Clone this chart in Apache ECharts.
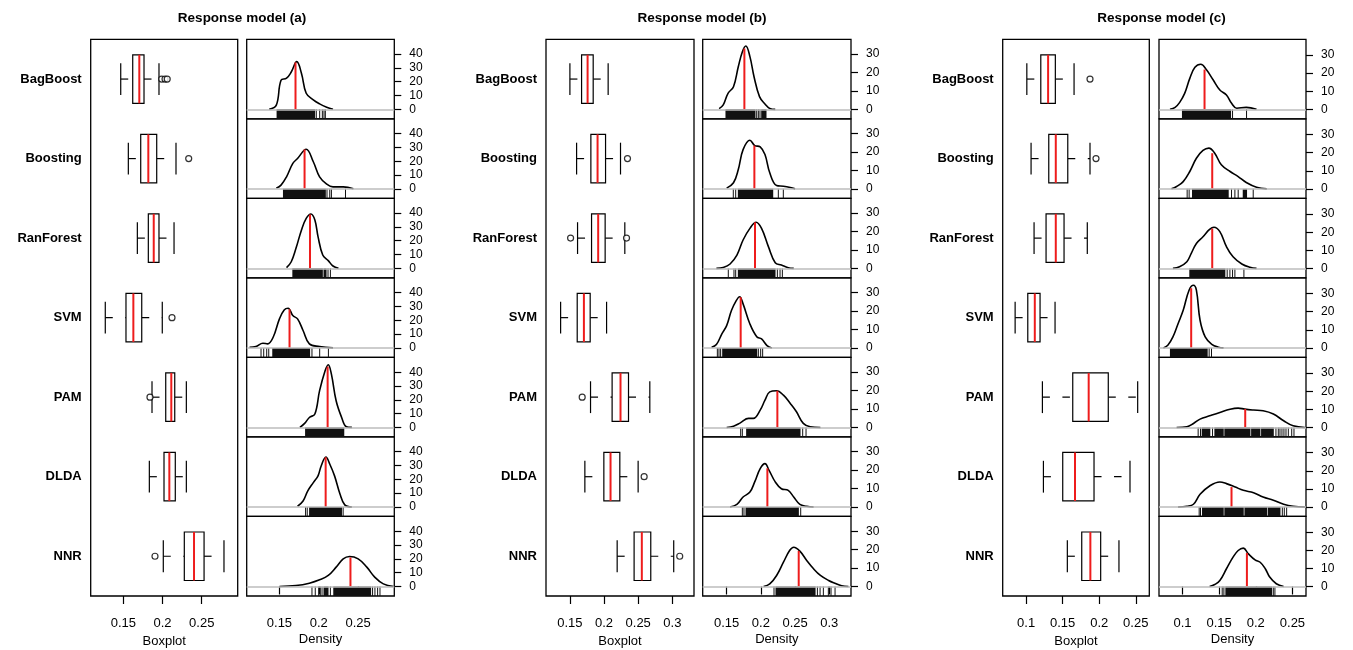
<!DOCTYPE html>
<html><head><meta charset="utf-8">
<script src="https://cdn.jsdelivr.net/npm/echarts@6/dist/echarts.min.js"></script>
<style>html,body{margin:0;padding:0;background:#fff}#c{width:1353px;height:650px}</style>
</head><body><div id="c"></div>
<script>
// ---------------- DATA ----------------
const methods = ['BagBoost','Boosting','RanForest','SVM','PAM','DLDA','NNR'];
const panelTitles = ['Response model (a)','Response model (b)','Response model (c)'];
const xTicksA = [0.15,0.2,0.25];
const xTicksB = [0.15,0.2,0.25,0.3];
const xTicksC = [0.1,0.15,0.2,0.25];
const yTicksA = [0,10,20,30,40];
const yTicksB = [0,10,20,30];
const yTicksC = [0,10,20,30];

// boxplot stats: [lower whisker, q1, median, q3, upper whisker]
const boxA = [
[0.1467,0.1620,0.1704,0.1764,0.1955],
[0.1564,0.1722,0.1819,0.1926,0.2172],
[0.1679,0.1819,0.1888,0.1955,0.2147],
[0.1270,0.1534,0.1628,0.1735,0.1997],
[0.1866,0.2041,0.2112,0.2156,0.2304],
[0.1832,0.2019,0.2087,0.2163,0.2304],
[0.2010,0.2278,0.2402,0.2530,0.2784]];
const boxB = [
[0.1500,0.1671,0.1759,0.1841,0.2060],
[0.1598,0.1807,0.1905,0.2022,0.2241],
[0.1612,0.1817,0.1914,0.2016,0.2304],
[0.1364,0.1607,0.1705,0.1797,0.2037],
[0.1802,0.2118,0.2241,0.2358,0.2670],
[0.1719,0.1997,0.2095,0.2231,0.2499],
[0.2192,0.2440,0.2553,0.2684,0.3020]];
const boxC = [
[0.1010,0.1201,0.1301,0.1400,0.1656],
[0.1068,0.1310,0.1406,0.1570,0.1874],
[0.1109,0.1273,0.1406,0.1519,0.1837],
[0.0850,0.1023,0.1119,0.1191,0.1396],
[0.1223,0.1638,0.1856,0.2124,0.2526],
[0.1237,0.1501,0.1669,0.1929,0.2421],
[0.1564,0.1761,0.1879,0.2020,0.2270]];

// outliers: [value, method index]
const outA = [[0.199,0],[0.2032,0],[0.206,0],[0.2334,1],[0.2121,3],[0.184,4],[0.1904,6]];
const outB = [[0.2343,1],[0.151,2],[0.2329,2],[0.168,4],[0.2587,5],[0.3108,6]];
const outC = [[0.1874,0],[0.1956,1]];

// density curves: [x, density]
const densA = [
[[0.137,0],[0.146,3],[0.152,21],[0.159,22.5],[0.165,27],[0.172,34.5],[0.178,26],[0.184,11.6],[0.193,6.8],[0.201,3.9],[0.210,1.5],[0.218,0]],
[[0.146,0.5],[0.152,2.7],[0.159,8.7],[0.167,18.4],[0.173,22],[0.184,28.7],[0.193,19.6],[0.201,8.7],[0.210,3.4],[0.218,1.4],[0.231,1.4],[0.244,0]],
[[0.159,0.5],[0.165,4.8],[0.171,14.5],[0.178,27.8],[0.184,36.2],[0.190,39.4],[0.195,35],[0.199,23],[0.205,9.7],[0.212,5.6],[0.218,1.7],[0.225,0]],
[[0.112,0.5],[0.120,1],[0.129,3.4],[0.135,2.9],[0.142,7.7],[0.150,21],[0.156,27.5],[0.161,28.7],[0.167,23.4],[0.173,21],[0.180,12.6],[0.188,2.9],[0.201,1],[0.218,0]],
[[0.176,0],[0.182,2.9],[0.188,7.2],[0.195,9.7],[0.201,26.6],[0.208,41],[0.212,45.4],[0.216,38.6],[0.222,19.3],[0.229,7.2],[0.235,0.5],[0.242,0]],
[[0.173,0.5],[0.180,4.3],[0.186,11.6],[0.193,17.6],[0.199,22.5],[0.203,29.7],[0.209,36.2],[0.214,30.9],[0.220,22.5],[0.227,9.2],[0.233,1.5],[0.242,0]],
[[0.150,0],[0.171,0.7],[0.188,2.4],[0.201,4.8],[0.212,8],[0.222,14],[0.231,20],[0.239,21.7],[0.250,20],[0.261,14],[0.271,6.8],[0.282,1.9],[0.295,0]]];
const densB = [
[[0.139,0.4],[0.145,2.4],[0.152,8.7],[0.160,12.3],[0.167,23.1],[0.173,31.3],[0.178,34.4],[0.184,28.6],[0.190,17.7],[0.198,6.9],[0.206,2.9],[0.213,0.5],[0.221,0]],
[[0.150,0.4],[0.160,3.3],[0.167,10.5],[0.174,21.3],[0.184,26.4],[0.191,23.5],[0.199,22.8],[0.206,18.6],[0.213,8.7],[0.223,1.8],[0.233,1.4],[0.243,0.7],[0.250,0]],
[[0.135,0],[0.145,0.5],[0.155,2.4],[0.165,7.2],[0.174,15.4],[0.184,21.7],[0.193,25],[0.201,21.7],[0.211,11.8],[0.221,3.1],[0.230,1.8],[0.240,0.4],[0.248,0]],
[[0.128,0.4],[0.135,1.8],[0.143,7.6],[0.150,12.1],[0.157,20.3],[0.164,25.7],[0.169,27.8],[0.174,23.9],[0.184,13],[0.194,6.1],[0.201,4.9],[0.209,1.3],[0.216,0]],
[[0.150,0],[0.160,0.7],[0.170,2.5],[0.182,4.9],[0.189,4.9],[0.199,9.4],[0.206,14.8],[0.213,19.3],[0.223,19.9],[0.233,17.5],[0.243,13],[0.252,8.5],[0.262,2.2],[0.272,0.4],[0.287,0]],
[[0.155,0],[0.165,1.4],[0.174,5.4],[0.184,8.1],[0.191,13.6],[0.199,20.8],[0.206,23.5],[0.212,19.9],[0.221,13.6],[0.230,9.9],[0.240,9],[0.248,5.4],[0.257,1.4],[0.267,0.4],[0.277,0]],
[[0.204,0],[0.213,1.4],[0.223,6],[0.233,13.2],[0.242,19.5],[0.248,21.3],[0.257,19.2],[0.267,14.1],[0.277,9.6],[0.287,6],[0.299,3.3],[0.308,1.8],[0.318,0.4],[0.328,0]]];
const densC = [
[[0.083,0],[0.090,1.1],[0.096,3.7],[0.103,8.8],[0.110,17.1],[0.117,23.2],[0.125,24.9],[0.133,21.7],[0.142,16.2],[0.151,10.7],[0.160,7.9],[0.167,3.3],[0.174,0.6],[0.187,1.1],[0.201,0]],
[[0.085,0],[0.092,1.3],[0.101,4],[0.110,9.6],[0.119,16.9],[0.128,21.2],[0.136,22.5],[0.144,19.7],[0.153,13.3],[0.165,9.6],[0.176,6.8],[0.187,3.5],[0.201,0.9],[0.215,0]],
[[0.087,0],[0.096,0.9],[0.106,3.7],[0.112,8.3],[0.119,13.8],[0.128,17.5],[0.137,21.5],[0.143,22.7],[0.151,20.3],[0.160,12],[0.169,6.4],[0.181,2.4],[0.192,0.6],[0.201,0]],
[[0.074,0],[0.080,1.5],[0.087,6.1],[0.094,13.4],[0.101,20.8],[0.109,31.9],[0.115,34.6],[0.119,31.9],[0.124,15.3],[0.131,6.1],[0.140,2],[0.149,0.4],[0.156,0]],
[[0.092,0],[0.106,0.4],[0.115,2.2],[0.124,4.6],[0.137,6.4],[0.151,8.3],[0.165,10.1],[0.176,10.7],[0.185,10.1],[0.197,9.6],[0.210,9.2],[0.224,7.4],[0.238,3.7],[0.251,0.9],[0.267,0]],
[[0.094,0],[0.106,0.4],[0.115,1.5],[0.124,7],[0.137,11.6],[0.151,13.8],[0.160,12.9],[0.172,11],[0.183,9.2],[0.197,7.9],[0.210,5.5],[0.224,3.7],[0.238,1.5],[0.251,0.4],[0.267,0]],
[[0.137,0],[0.144,1.1],[0.151,3.3],[0.160,9.8],[0.169,16.2],[0.176,19.9],[0.183,21.2],[0.190,18],[0.199,14.7],[0.206,13.4],[0.213,9.8],[0.219,5.2],[0.228,1.5],[0.238,0]]];

// density height at the median (red line top)
const medHA = [34, 28.5, 39, 28, 44, 36, 21];
const medHB = [33, 23.5, 25, 27.5, 19.9, 21, 19.3];
const medHC = [22, 19.7, 22, 33, 10.2, 11, 18.5];

// rug: [start, end] runs of observations (single ticks have start == end)
const rugA = [
[[0.147,0.1947],[0.1968,0.1968],[0.2011,0.2011],[0.2045,0.2045],[0.2066,0.2066],[0.2083,0.2083]],
[[0.1551,0.2083],[0.2104,0.2104],[0.2139,0.2139],[0.216,0.216],[0.2339,0.2339]],
[[0.167,0.2045],[0.2066,0.2092],[0.2117,0.2117],[0.2147,0.2147]],
[[0.1266,0.1266],[0.13,0.13],[0.1338,0.1338],[0.1364,0.1364],[0.1415,0.1883],[0.1913,0.1913],[0.2011,0.2011],[0.2122,0.2122]],
[[0.1832,0.2317]],
[[0.1832,0.1832],[0.1853,0.1853],[0.1883,0.2288],[0.2309,0.2309]],
[[0.1913,0.1913],[0.1955,0.1955],[0.1998,0.1998],[0.2019,0.2019],[0.2041,0.2041],[0.2066,0.2117],[0.2147,0.2147],[0.219,0.2658],[0.2683,0.2683],[0.2713,0.2713],[0.2747,0.2747],[0.2777,0.2777]]];
const rugB = [
[[0.149,0.1914],[0.1939,0.1939],[0.1963,0.1963],[0.1987,0.1987],[0.2012,0.2075]],
[[0.1597,0.1597],[0.1632,0.1632],[0.1671,0.2173],[0.2255,0.2255],[0.2328,0.2328]],
[[0.1524,0.1524],[0.1607,0.1607],[0.1632,0.1632],[0.1671,0.2207],[0.2241,0.2241],[0.228,0.228],[0.2314,0.2314]],
[[0.1364,0.1364],[0.1388,0.1388],[0.1412,0.1412],[0.1442,0.1939],[0.1963,0.1963],[0.1997,0.1997],[0.2026,0.2026]],
[[0.1705,0.1705],[0.1729,0.1729],[0.1792,0.2572],[0.2611,0.2611],[0.266,0.266]],
[[0.1729,0.1729],[0.1753,0.1753],[0.1783,0.2548],[0.2582,0.2582]],
[[0.2192,0.2192],[0.2221,0.2792],[0.2826,0.2826],[0.2865,0.2865],[0.2913,0.2913],[0.2986,0.2986],[0.3025,0.3025],[0.3084,0.3084]]];
const rugC = [
[[0.1,0.1656],[0.1683,0.1683],[0.1874,0.1874]],
[[0.1064,0.1064],[0.1091,0.1091],[0.1137,0.1624],[0.1669,0.1669],[0.1715,0.1715],[0.176,0.176],[0.1829,0.1874],[0.1965,0.1965]],
[[0.11,0.1578],[0.161,0.161],[0.1647,0.1647],[0.1683,0.1683],[0.1715,0.1715],[0.1838,0.1838]],
[[0.0836,0.1337],[0.1364,0.1364],[0.1396,0.1396]],
[[0.1214,0.1214],[0.1246,0.1246],[0.1269,0.1373],[0.141,0.141],[0.1442,0.1556],[0.1578,0.192],[0.1943,0.2056],[0.2079,0.2239],[0.2275,0.2275],[0.2307,0.2307],[0.233,0.233],[0.2357,0.2357],[0.2384,0.2384],[0.2412,0.2412],[0.2444,0.2444],[0.249,0.249],[0.2521,0.2521]],
[[0.1228,0.1228],[0.1246,0.1246],[0.1273,0.1556],[0.1578,0.1829],[0.1852,0.2148],[0.217,0.233],[0.2362,0.2362],[0.2389,0.2389],[0.2421,0.2421]],
[[0.1542,0.1542],[0.1565,0.1565],[0.1592,0.2216],[0.2239,0.2239],[0.2261,0.2261]]];

// ---------------- LAYOUT ----------------
const FONT = '"Liberation Sans", Arial, Helvetica, sans-serif';
const TOP = 39.3, BOTTOM = 596;
const ROWH = (BOTTOM - TOP) / 7;
const panels = [
  {title:panelTitles[0], cx:242, box:[90.7,237.7], den:[246.7,394.3], xr:[0.1084,0.2959], yr:[-6.9,50.7], xt:xTicksA, yt:yTicksA, stats:boxA, out:outA, dens:densA, rug:rugA, medH:medHA},
  {title:panelTitles[1], cx:702, box:[546,694], den:[702.7,851], xr:[0.115,0.3317], yr:[-5.15,38.0], xt:xTicksB, yt:yTicksB, stats:boxB, out:outB, dens:densB, rug:rugB, medH:medHB},
  {title:panelTitles[2], cx:1161.5, box:[1002.7,1149.3], den:[1159,1306], xr:[0.068,0.2685], yr:[-5.25,38.7], xt:xTicksC, yt:yTicksC, stats:boxC, out:outC, dens:densC, rug:rugC, medH:medHC}
];

const BLK = {stroke:'#000', lineWidth:1.2};
function renderBox(params, api){
  const c = api.value(0);
  const pt = k => api.coord([api.value(k), c]);
  const lo = pt(1), q1 = pt(2), md = pt(3), q3 = pt(4), hi = pt(5);
  const y = lo[1];
  const band = api.size([0,1])[1];
  const hb = band * 0.305, hw = band * 0.2;
  return {type:'group', children:[
    {type:'line', shape:{x1:lo[0],y1:y,x2:q1[0],y2:y}, style:Object.assign({lineDash:[7.5,12.5]}, BLK)},
    {type:'line', shape:{x1:q3[0],y1:y,x2:hi[0],y2:y}, style:Object.assign({lineDash:[7.5,12.5]}, BLK)},
    {type:'line', shape:{x1:lo[0],y1:y-hw,x2:lo[0],y2:y+hw}, style:BLK},
    {type:'line', shape:{x1:hi[0],y1:y-hw,x2:hi[0],y2:y+hw}, style:BLK},
    {type:'rect', shape:{x:q1[0],y:y-hb,width:q3[0]-q1[0],height:2*hb}, style:Object.assign({fill:'#fff'}, BLK)},
    {type:'line', shape:{x1:md[0],y1:y-hb,x2:md[0],y2:y+hb}, style:{stroke:'#ee1c1c', lineWidth:2}}
  ]};
}
function makeRug(ymin){
  return function(params, api){
    const a = api.coord([api.value(0), 0]);
    const b = api.coord([api.value(1), ymin]);
    return {type:'rect', shape:{x:a[0]-0.5, y:a[1], width:Math.max(1, b[0]-a[0]+1), height:b[1]-a[1]}, style:{fill:'#111'}};
  };
}
function renderMed(params, api){
  const a = api.coord([api.value(0), 0]);
  const b = api.coord([api.value(0), api.value(1)]);
  return {type:'line', shape:{x1:a[0],y1:a[1],x2:b[0],y2:b[1]}, style:{stroke:'#ee1c1c', lineWidth:2}};
}

const grid = [], xAxis = [], yAxis = [], series = [], title = [];
const txt = (s, extra) => Object.assign({fontSize:s, color:'#000', fontFamily:FONT}, extra || {});

panels.forEach((P) => {
  title.push({text:P.title, left:P.cx, top:11, textAlign:'center', padding:0, textStyle:txt(13.5, {fontWeight:'bold'})});
  const gi = grid.length;
  grid.push({left:P.box[0], top:TOP, width:P.box[1]-P.box[0], height:BOTTOM-TOP, show:true, borderColor:'#000', borderWidth:1.3, backgroundColor:'transparent', outerBoundsMode:'none', containLabel:false});
  xAxis.push({gridIndex:gi, type:'value', min:P.xr[0], max:P.xr[1], axisLine:{show:false}, splitLine:{show:false},
    axisTick:{show:true, length:8, customValues:P.xt, lineStyle:{color:'#000', width:1.2}},
    axisLabel:{customValues:P.xt, margin:21, ...txt(13)},
    name:'Boxplot', nameLocation:'middle', nameGap:37, nameTextStyle:txt(13)});
  yAxis.push({gridIndex:gi, type:'category', data:methods, inverse:true, axisLine:{show:false}, axisTick:{show:false}, splitLine:{show:false},
    axisLabel:Object.assign({margin:9}, txt(13, {fontWeight:'bold'}))});
  series.push({type:'custom', coordinateSystem:'cartesian2d', xAxisIndex:gi, yAxisIndex:gi, renderItem:renderBox,
    data:P.stats.map((s,i)=>[i].concat(s)), encode:{x:[1,2,3,4,5], y:0}, z:3, silent:true});
  series.push({type:'scatter', xAxisIndex:gi, yAxisIndex:gi, data:P.out, symbol:'circle', symbolSize:6,
    itemStyle:{color:'#fff', borderColor:'#000', borderWidth:1.2}, z:4, silent:true});

  for (let r = 0; r < 7; r++) {
    const g = grid.length;
    const last = r === 6;
    grid.push({left:P.den[0], top:TOP + r*ROWH, width:P.den[1]-P.den[0], height:ROWH, show:true, borderColor:'#000', borderWidth:1.3, backgroundColor:'transparent', outerBoundsMode:'none', containLabel:false});
    xAxis.push({gridIndex:g, type:'value', min:P.xr[0], max:P.xr[1], axisLine:{show:false}, splitLine:{show:false},
      axisTick:{show:last, length:8, customValues:P.xt, lineStyle:{color:'#000', width:1.2}},
      axisLabel:{show:last, customValues:P.xt, margin:21, ...txt(13)},
      name:last ? 'Density' : '', nameLocation:'middle', nameGap:37, nameTextStyle:txt(13)});
    yAxis.push({gridIndex:g, type:'value', position:'right', min:P.yr[0], max:P.yr[1], axisLine:{show:false}, splitLine:{show:false},
      axisTick:{show:true, length:7, customValues:P.yt, lineStyle:{color:'#000', width:1.2}},
      axisLabel:{customValues:P.yt, margin:15, ...txt(12)}});
    series.push({type:'custom', coordinateSystem:'cartesian2d', xAxisIndex:g, yAxisIndex:g, renderItem:makeRug(P.yr[0]),
      data:P.rug[r], encode:{x:[0,1]}, z:2, silent:true});
    series.push({type:'line', xAxisIndex:g, yAxisIndex:g, data:P.dens[r], smooth:0.4, showSymbol:false, symbol:'none',
      lineStyle:{color:'#000', width:1.6}, z:3, silent:true,
      markLine:{silent:true, symbol:'none', label:{show:false}, animation:false,
        lineStyle:{color:'#bdbdbd', width:1.6, type:'solid'}, data:[{yAxis:0}]}});
    series.push({type:'custom', coordinateSystem:'cartesian2d', xAxisIndex:g, yAxisIndex:g, renderItem:renderMed,
      data:[[P.stats[r][2], P.medH[r]]], encode:{x:0, y:1}, z:4, silent:true});
  }
});

const chart = echarts.init(document.getElementById('c'), null, {renderer:'canvas'});
chart.setOption({animation:false, backgroundColor:'#fff', title, grid, xAxis, yAxis, series});
</script></body></html>
